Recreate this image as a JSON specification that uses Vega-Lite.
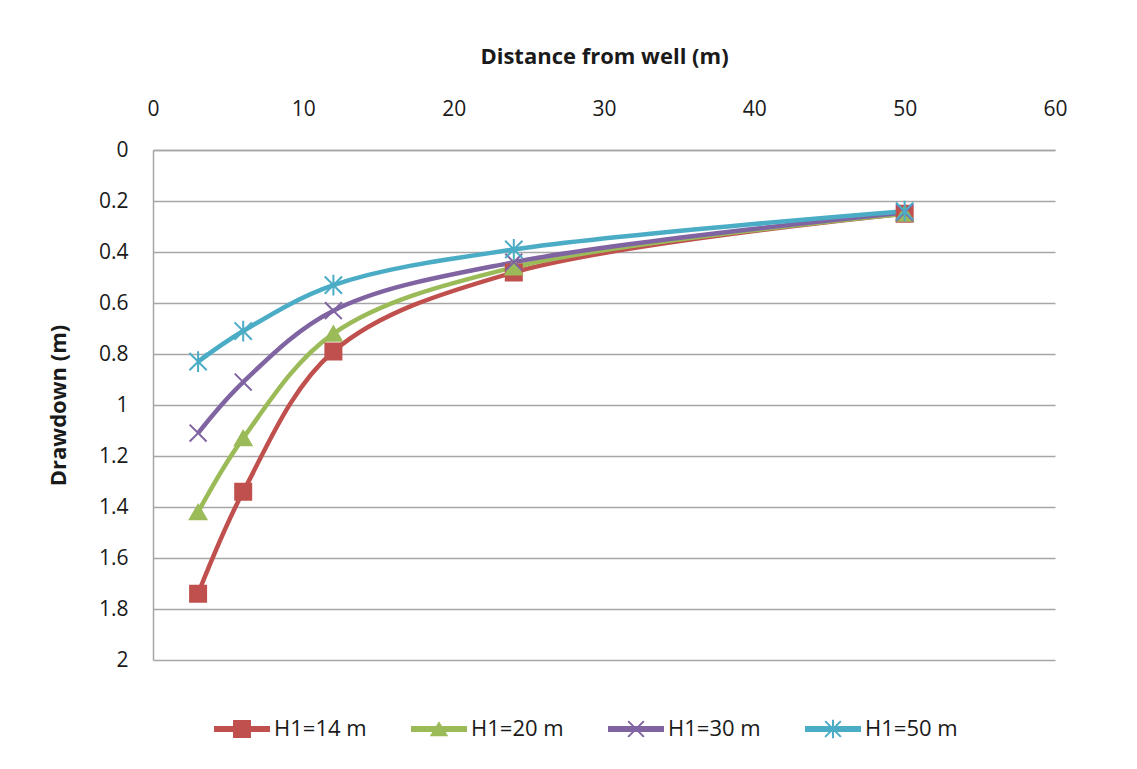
{
  "$schema": "https://vega.github.io/schema/vega-lite/v6.json",
  "autosize": {"type": "none"},
  "width": 902,
  "height": 510,
  "padding": {"left": 153, "top": 150, "right": 82, "bottom": 109},
  "background": "#ffffff",
  "config": {
    "font": "Open Sans",
    "view": {"stroke": null},
    "axis": {"labelFont": "Open Sans", "titleFont": "Open Sans", "labelColor": "#1a1a1a", "titleColor": "#1a1a1a", "labelFlush": false},
    "legend": {
      "title": null,
      "orient": "none",
      "legendX": 61,
      "legendY": 551,
      "direction": "horizontal",
      "columns": 4,
      "columnPadding": 44,
      "labelFont": "Open Sans",
      "labelFontSize": 22,
      "labelColor": "#1a1a1a",
      "labelOffset": 4,
      "symbolSize": 3136,
      "symbolStrokeWidth": 0,
      "symbolOpacity": 1
    }
  },
  "data": {
    "values": [
      {"series": "H1=14 m", "distance": 3, "drawdown": 1.74},
      {"series": "H1=14 m", "distance": 6, "drawdown": 1.34},
      {"series": "H1=14 m", "distance": 12, "drawdown": 0.79},
      {"series": "H1=14 m", "distance": 24, "drawdown": 0.48},
      {"series": "H1=14 m", "distance": 50, "drawdown": 0.25},
      {"series": "H1=20 m", "distance": 3, "drawdown": 1.42},
      {"series": "H1=20 m", "distance": 6, "drawdown": 1.13},
      {"series": "H1=20 m", "distance": 12, "drawdown": 0.72},
      {"series": "H1=20 m", "distance": 24, "drawdown": 0.46},
      {"series": "H1=20 m", "distance": 50, "drawdown": 0.25},
      {"series": "H1=30 m", "distance": 3, "drawdown": 1.11},
      {"series": "H1=30 m", "distance": 6, "drawdown": 0.91},
      {"series": "H1=30 m", "distance": 12, "drawdown": 0.63},
      {"series": "H1=30 m", "distance": 24, "drawdown": 0.44},
      {"series": "H1=30 m", "distance": 50, "drawdown": 0.245},
      {"series": "H1=50 m", "distance": 3, "drawdown": 0.83},
      {"series": "H1=50 m", "distance": 6, "drawdown": 0.71},
      {"series": "H1=50 m", "distance": 12, "drawdown": 0.53},
      {"series": "H1=50 m", "distance": 24, "drawdown": 0.39},
      {"series": "H1=50 m", "distance": 50, "drawdown": 0.24}
    ]
  },
  "encoding": {
    "x": {
      "field": "distance",
      "type": "quantitative",
      "scale": {"domain": [0, 60], "nice": false},
      "axis": {
        "orient": "top",
        "title": "Distance from well (m)",
        "values": [0, 10, 20, 30, 40, 50, 60],
        "grid": false,
        "ticks": false,
        "domain": true,
        "domainColor": "#a6a6a6",
        "domainWidth": 1.5,
        "labelFontSize": 21,
        "labelPadding": 31,
        "titleFontSize": 22,
        "titleFontWeight": "bold",
        "titlePadding": 30
      }
    },
    "y": {
      "field": "drawdown",
      "type": "quantitative",
      "scale": {"domain": [0, 2], "reverse": true, "nice": false},
      "axis": {
        "title": "Drawdown (m)",
        "values": [0, 0.2, 0.4, 0.6, 0.8, 1, 1.2, 1.4, 1.6, 1.8, 2],
        "format": ".1~f",
        "grid": true,
        "gridColor": "#a6a6a6",
        "gridWidth": 1.5,
        "ticks": false,
        "domain": true,
        "domainColor": "#a6a6a6",
        "domainWidth": 1.5,
        "labelFontSize": 21,
        "labelPadding": 25,
        "titleFontSize": 22,
        "titleFontWeight": "bold",
        "titlePadding": 28
      }
    },
    "color": {
      "field": "series",
      "type": "nominal",
      "scale": {"domain": ["H1=14 m", "H1=20 m", "H1=30 m", "H1=50 m"], "range": ["#c0504d", "#9bbb59", "#8064a2", "#4bacc6"]},
      "legend": null
    }
  },
  "resolve": {"scale": {"shape": "independent", "color": "independent"}},
  "layer": [
    {
      "mark": {"type": "line", "interpolate": "catmull-rom", "strokeWidth": 4.5}
    },
    {
      "mark": {"type": "point", "filled": true, "opacity": 1, "strokeWidth": 2},
      "encoding": {
        "stroke": {
          "field": "series",
          "type": "nominal",
          "scale": {"domain": ["H1=14 m", "H1=20 m", "H1=30 m", "H1=50 m"], "range": ["#c0504d", "#9bbb59", "#8064a2", "#4bacc6"]},
          "legend": null
        },
        "shape": {
          "field": "series",
          "type": "nominal",
          "scale": {"domain": ["H1=14 m", "H1=20 m", "H1=30 m", "H1=50 m"], "range": ["square", "triangle-up", "M-1,-1L1,1M-1,1L1,-1", "M-1,-1L1,1M-1,1L1,-1M0,-1.2L0,1.2"]},
          "legend": null
        },
        "size": {
          "field": "series",
          "type": "nominal",
          "scale": {"domain": ["H1=14 m", "H1=20 m", "H1=30 m", "H1=50 m"], "range": [256, 300, 225, 225]},
          "legend": null
        }
      }
    },
    {
      "transform": [{"filter": "datum.distance < 0"}],
      "mark": {"type": "point", "filled": true, "opacity": 1, "size": 3136},
      "encoding": {
        "color": {
          "field": "series",
          "type": "nominal",
          "scale": {"domain": ["H1=14 m", "H1=20 m", "H1=30 m", "H1=50 m"], "range": ["#c0504d", "#9bbb59", "#8064a2", "#4bacc6"]},
          "legend": {}
        },
        "shape": {
          "field": "series",
          "type": "nominal",
          "scale": {
            "domain": ["H1=14 m", "H1=20 m", "H1=30 m", "H1=50 m"],
            "range": [
              "M-1,-0.107L1,-0.107L1,0.107L-1,0.107ZM-0.32,-0.32L0.32,-0.32L0.32,0.32L-0.32,0.32Z",
              "M-1,-0.107L1,-0.107L1,0.107L-1,0.107ZM0,-0.28L0.33,0.26L-0.33,0.26Z",
              "M-1,-0.107L1,-0.107L1,0.107L-1,0.107ZM-0.255,-0.305L0.305,0.255L0.255,0.305L-0.305,-0.255ZM-0.305,0.255L0.255,-0.305L0.305,-0.255L-0.255,0.305Z",
              "M-1,-0.107L1,-0.107L1,0.107L-1,0.107ZM-0.255,-0.305L0.305,0.255L0.255,0.305L-0.305,-0.255ZM-0.305,0.255L0.255,-0.305L0.305,-0.255L-0.255,0.305ZM-0.035,-0.33L0.035,-0.33L0.035,0.33L-0.035,0.33Z"
            ]
          },
          "legend": {}
        }
      }
    }
  ]
}
